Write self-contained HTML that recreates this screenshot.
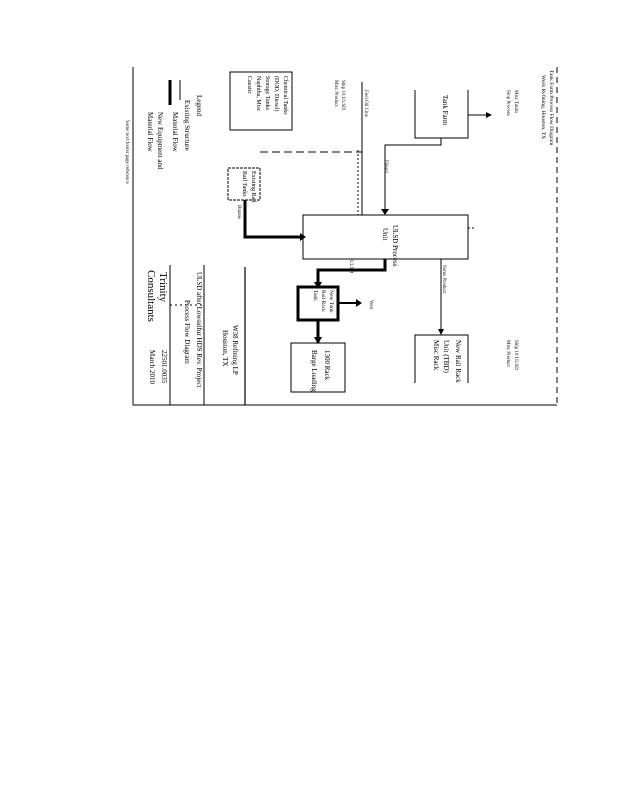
<!DOCTYPE html>
<html><head><style>
html,body{margin:0;padding:0;background:#fff;width:618px;height:800px;overflow:hidden}
svg text{font-family:"Liberation Serif",serif;fill:#000}
</style></head><body>
<svg width="618" height="800" viewBox="0 0 618 800" xmlns="http://www.w3.org/2000/svg">
<g stroke="#000" fill="none" stroke-width="1">
<line x1="133" y1="67" x2="133" y2="405"/>
<line x1="133" y1="405" x2="557" y2="405"/>
<line x1="557" y1="67" x2="557" y2="405" stroke-dasharray="6,4"/>
<line x1="170" y1="265" x2="170" y2="405"/>
<line x1="204" y1="265" x2="204" y2="405"/>
<line x1="245" y1="267" x2="245" y2="405" stroke-width="1.2"/>
<line x1="170" y1="305" x2="204" y2="305" stroke-dasharray="2,3"/>
<rect x="230" y="72" width="62" height="58"/>
<rect x="228" y="168" width="32" height="32" stroke-dasharray="3,1"/>
<rect x="303" y="215" width="165" height="44"/>
<rect x="298" y="287" width="40" height="33" stroke-width="3"/>
<rect x="291" y="343" width="54" height="49"/>
<polyline points="415,90 415,138 468,138 468,90"/>
<polyline points="415,383 415,335 468,335 468,383"/>
<polyline points="245,200 245,237 300,237" stroke-width="3"/>
<polyline points="385,259 385,270 318,270 318,287" stroke-width="3"/>
<line x1="318" y1="320" x2="318" y2="343" stroke-width="3"/>
<line x1="338" y1="303" x2="358" y2="303" stroke-width="2"/>
<polyline points="441,138 441,145 385,145 385,213"/>
<line x1="362" y1="82" x2="362" y2="215"/>
<line x1="358" y1="150" x2="358" y2="215" stroke-dasharray="2,2"/>
<line x1="260" y1="152" x2="362" y2="152" stroke-dasharray="8,4"/>
<line x1="468" y1="115" x2="490" y2="115"/>
<line x1="441" y1="259" x2="441" y2="333"/>
<line x1="468" y1="228" x2="475" y2="228" stroke-dasharray="2,2"/>
<line x1="170" y1="80" x2="170" y2="105" stroke-width="3"/>
<line x1="180" y1="80" x2="180" y2="100"/>
</g>
<g fill="#000">
<polygon points="300,233 300,241 306,237"/>
<polygon points="314,282 322,282 318,289"/>
<polygon points="314,337 322,337 318,344"/>
<polygon points="356,299 356,307 362,303"/>
<polygon points="381,209 389,209 385,215"/>
<polygon points="486,112 486,118 492,115"/>
<polygon points="438,329 444,329 441,335"/>
</g>
<g font-size="6">
<text transform="translate(284,76) rotate(90)">Chemical Tanks</text>
<text transform="translate(275,76) rotate(90)">(DOD, Diesel)</text>
<text transform="translate(266,76) rotate(90)">Storage Tanks</text>
<text transform="translate(257,76) rotate(90)">Naphtha, Misc</text>
<text transform="translate(248,76) rotate(90)">Caustic</text>
<text transform="translate(252,171) rotate(90)">Existing Rail</text>
<text transform="translate(243,171) rotate(90)">Rail Tanks</text>
</g>
<g font-size="7">
<text transform="translate(393,225) rotate(90)">ULSD Process</text>
<text transform="translate(383,228) rotate(90)">Unit</text>
<text transform="translate(443,95) rotate(90)">Tank Farm</text>
<text transform="translate(456,340) rotate(90)">New Rail Rack</text>
<text transform="translate(444,340) rotate(90)">Unit (TBD)</text>
<text transform="translate(434,340) rotate(90)">Misc Rack</text>
<text transform="translate(325,350) rotate(90)">1300 Rack</text>
<text transform="translate(312,350) rotate(90)">Barge Loading</text>
<text transform="translate(197,95) rotate(90)">Legend</text>
<text transform="translate(185,100) rotate(90)">Existing Structure</text>
<text transform="translate(173,112) rotate(90)">Material Flow</text>
<text transform="translate(158,112) rotate(90)">New Equipment and</text>
<text transform="translate(148,112) rotate(90)">Material Flow</text>
<text transform="translate(233,325) rotate(90)">W38 Refining LP</text>
<text transform="translate(223,330) rotate(90)">Houston, TX</text>
<text transform="translate(197,272) rotate(90)">ULSD after Lowsulfur HDS Rev. Project</text>
<text transform="translate(185,300) rotate(90)">Process Flow Diagram</text>
<text transform="translate(162,350) rotate(90)">22501.0035</text>
<text transform="translate(150,350) rotate(90)">March 2010</text>
</g>
<g font-size="5.5">
<text transform="translate(330,290) rotate(90)">New Tank</text>
<text transform="translate(322,290) rotate(90)">Rail Rack</text>
<text transform="translate(314,290) rotate(90)">Tank</text>
<text transform="translate(550,70) rotate(90)">Tank Farm Process Flow Diagram</text>
<text transform="translate(542,75) rotate(90)">Work Refining, Houston, TX</text>
</g>
<g font-size="11">
<text transform="translate(160,272) rotate(90)">Trinity</text>
<text transform="translate(148,270) rotate(90)">Consultants</text>
</g>
<g font-size="5">
<text transform="translate(126,120) rotate(90)">Some text footer page reference</text>
<text transform="translate(385,160) rotate(90)">Diesel</text>
<text transform="translate(365,90) rotate(90)">Fuel Oil Line</text>
<text transform="translate(342,80) rotate(90)">Ship 10 ULSD</text>
<text transform="translate(335,80) rotate(90)">Misc Product</text>
<text transform="translate(515,90) rotate(90)">Misc Tanks</text>
<text transform="translate(507,90) rotate(90)">Slop Process</text>
<text transform="translate(515,340) rotate(90)">Ship 10 ULSD</text>
<text transform="translate(507,340) rotate(90)">Misc Product</text>
<text transform="translate(443,265) rotate(90)">Some Product</text>
<text transform="translate(350,260) rotate(90)">ULSD</text>
<text transform="translate(370,300) rotate(90)">Vent</text>
<text transform="translate(238,205) rotate(90)">Butane</text>
</g>
</svg>
</body></html>
